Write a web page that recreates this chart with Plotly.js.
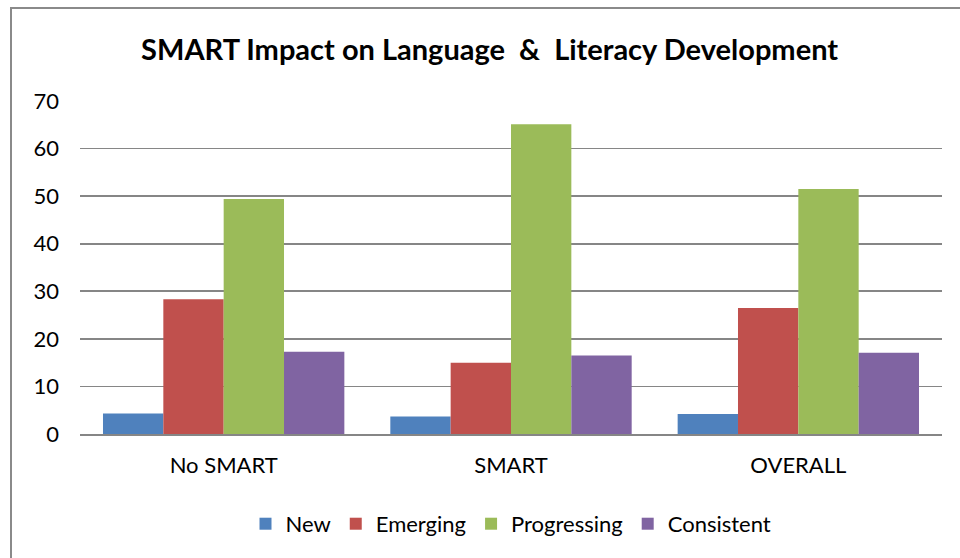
<!DOCTYPE html>
<html>
<head>
<meta charset="utf-8">
<script src="https://cdn.plot.ly/plotly-3.0.1.min.js"></script>
<style>
  html, body { margin: 0; padding: 0; background: #fff; }
  #wrap { position: relative; width: 960px; height: 558px; overflow: hidden; }
  #chart { width: 960px; height: 558px; }
  #frame { position: absolute; left: 10px; top: 7px; width: 2000px; height: 2000px;
           border-left: 2px solid #8a8a8a; border-top: 2px solid #8a8a8a; pointer-events: none; }
</style>
</head>
<body>
<div id="wrap">
  <div id="chart"></div>
  <div id="frame"></div>
</div>
<script>
const categories = ["No SMART", "SMART", "OVERALL"];
const seriesNames = ["New", "Emerging", "Progressing", "Consistent"];
const newVals = [4.3, 3.7, 4.2];
const emergingVals = [28.3, 15.0, 26.5];
const progressingVals = [49.4, 65.1, 51.5];
const consistentVals = [17.3, 16.5, 17.1];
const colors = ["#4f81bd", "#c0504d", "#9bbb59", "#8064a2"];
const yTicks = [0, 10, 20, 30, 40, 50, 60, 70];

const allVals = [newVals, emergingVals, progressingVals, consistentVals];
const FONT = "Lato, Carlito, 'Open Sans', sans-serif";

const traces = allVals.map((v, i) => ({
  type: "bar",
  name: seriesNames[i],
  x: categories,
  y: v,
  marker: { color: colors[i], line: { width: 0 } },
  hoverinfo: "x+y+name"
}));

const layout = {
  width: 960,
  height: 558,
  paper_bgcolor: "#ffffff",
  plot_bgcolor: "#ffffff",
  margin: { l: 80, r: 18, t: 101, b: 124 },
  title: {
    text: "<b>SMART Impact on Language  &  Literacy Development</b>",
    font: { family: FONT, size: 29, color: "#000" },
    x: 0.51, xanchor: "center",
    y: 0.91, yanchor: "middle"
  },
  barmode: "group",
  bargap: 0.16,
  bargroupgap: 0,
  xaxis: {
    type: "category",
    showgrid: false,
    showline: true,
    linecolor: "#868686",
    linewidth: 2,
    ticks: "",
    tickfont: { family: FONT, size: 22, color: "#000" },
    ticklabelstandoff: 11
  },
  yaxis: {
    range: [0, 70],
    tickvals: yTicks,
    ticktext: yTicks.map(String),
    showgrid: true,
    gridcolor: "#868686",
    gridwidth: 1.6,
    zeroline: false,
    showline: false,
    ticks: "",
    tickfont: { family: FONT, size: 22, color: "#000" },
    ticklabelstandoff: 20
  },
  legend: {
    orientation: "h",
    x: 0.5, xanchor: "center",
    y: -0.27, yanchor: "middle",
    font: { family: FONT, size: 22, color: "#000" },
    itemgap: 16
  },
  showlegend: true
};

Plotly.newPlot("chart", traces, layout, { displayModeBar: false, staticPlot: true });
</script>
</body>
</html>
